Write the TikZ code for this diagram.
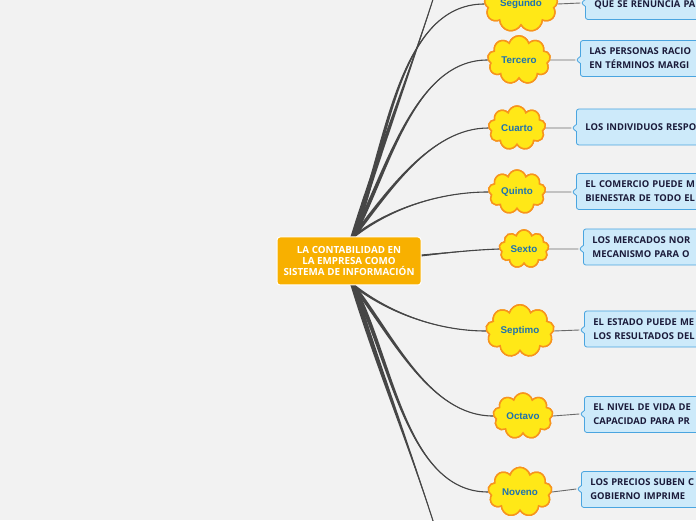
\documentclass[tikz,border=0pt]{standalone}
\usepackage{fontspec}
\setmainfont{Open Sans}
\newfontfamily\nubefont{Liberation Sans}
\usetikzlibrary{shapes.symbols,shapes.callouts,calc}
\definecolor{fondo}{HTML}{F2F2F2}
\definecolor{rama}{HTML}{464646}
\definecolor{naranja}{HTML}{F8B000}
\definecolor{amarillo}{HTML}{FFE817}
\definecolor{borde}{HTML}{F7941D}
\definecolor{azultxt}{HTML}{1F72AE}
\definecolor{celeste}{HTML}{CDEAFA}
\definecolor{azulborde}{HTML}{4AA5E0}
\definecolor{tinta}{HTML}{1B1B3A}
\definecolor{enlace}{HTML}{6A6A6A}
% rama afinada: desde, hasta, angulo de salida, angulo de llegada, medio ancho
\newcommand{\rama}[5]{%
  \fill[rama] ($(#1)+(#5)$) to[out=#3,in=#4,looseness=0.85] (#2)
    to[out=#4,in=#3,looseness=0.85] ($(#1)-(#5)$) -- cycle;
  \draw[rama,line width=1.1pt] (#1) to[out=#3,in=#4,looseness=0.85] (#2);}

\begin{document}
\begin{tikzpicture}[x=1pt,y=1pt,
    tema/.style={rectangle, rounded corners=3pt, draw=white, line width=1pt, fill=naranja,
      text=white, font=\bfseries\fontsize{9.8}{11}\selectfont, align=center,
      minimum width=144pt, minimum height=48pt},
    nube/.style={cloud, cloud puffs=9, aspect=1.6, draw=borde, line width=1.5pt, fill=amarillo,
      text=azultxt, font=\nubefont\bfseries\fontsize{9.8}{11}\selectfont,
      inner xsep=2.5pt, inner ysep=5pt},
    caja/.style={rectangle callout, rounded corners=2.5pt, draw=azulborde, fill=celeste,
      line width=0.8pt, text=tinta, font=\bfseries\fontsize{9.4}{14}\selectfont,
      align=left, text width=150pt, inner xsep=9pt, minimum height=36pt, anchor=west,
      callout pointer width=7pt},
    enlace/.style={draw=enlace, line width=0.9pt}]
    
    \clip (0,0) rectangle (696,520);
    \fill[fondo] (0,0) rectangle (696,520);
    
    \node (tema) at (349,259) {};
    \coordinate (arriba) at (353,283);
    \coordinate (abajo) at (353,235);
    \coordinate (primero) at (448,570);
    \coordinate (decimo) at (448,-50);
    
    \node[nube] (segundo) at (521,516) {Segundo};
    \node[nube] (tercero) at (519,460) {Tercero};
    \node[nube] (cuarto) at (517,392) {Cuarto};
    \node[nube] (quinto) at (517,328) {Quinto};
    \node[nube] (sexto) at (524,271) {Sexto};
    \node[nube] (septimo) at (520,189) {Septimo};
    \node[nube] (octavo) at (523,104) {Octavo};
    \node[nube] (noveno) at (520,28) {Noveno};
    
    \node[caja, callout absolute pointer={(581,517)}] (c2) at (585,518.5) {\mbox{}\\QUE SE RENUNCIA PA};
    \node[caja, callout absolute pointer={(576,460)}] (c3) at (580,461.5) {LAS PERSONAS RACIO\\EN TÉRMINOS MARGI};
    \node[caja, callout absolute pointer={(572,392)}] (c4) at (576,393) {LOS INDIVIDUOS RESPO};
    \node[caja, callout absolute pointer={(572,328)}] (c5) at (576,328.5) {EL COMERCIO PUEDE M\\BIENESTAR DE TODO EL};
    \node[caja, callout absolute pointer={(579,271)}] (c6) at (583,273) {LOS MERCADOS NOR\\MECANISMO PARA O};
    \node[caja, callout absolute pointer={(580,190)}] (c7) at (584,191) {EL ESTADO PUEDE ME\\LOS RESULTADOS DEL};
    \node[caja, callout absolute pointer={(580,106)}] (c8) at (584,105.5) {EL NIVEL DE VIDA DE\\CAPACIDAD PARA PR};
    \node[caja, callout absolute pointer={(577,31)}] (c9) at (581,30.5) {LOS PRECIOS SUBEN C\\GOBIERNO IMPRIME};
    
    % ramas principales
    \rama{arriba}{primero}{73}{254}{2.6,0}
    \rama{arriba}{segundo.west}{68}{180}{2.2,0}
    \rama{arriba}{tercero.west}{62}{180}{2.2,0}
    \rama{arriba}{cuarto.west}{52}{180}{2.2,0}
    \rama{arriba}{quinto.west}{38}{180}{2.2,0}
    \rama{tema.east}{sexto.west}{2}{182}{0,1.8}
    \rama{abajo}{septimo.west}{-38}{180}{2.2,0}
    \rama{abajo}{octavo.west}{-52}{180}{2.2,0}
    \rama{abajo}{noveno.west}{-62}{180}{2.2,0}
    \rama{abajo}{decimo}{-73}{106}{2.6,0}
    
    \node[tema] at (tema) {LA CONTABILIDAD EN\\LA EMPRESA COMO\\SISTEMA DE INFORMACIÓN};
    
    \foreach \n/\c in {segundo/c2,tercero/c3,cuarto/c4,quinto/c5,sexto/c6,septimo/c7,octavo/c8,noveno/c9}
      \draw[enlace] (\n.east) -- (\c.pointer);
    
    % las nubes van encima de las ramas
    \node[nube] at (segundo) {Segundo};
    \node[nube] at (tercero) {Tercero};
    \node[nube] at (cuarto) {Cuarto};
    \node[nube] at (quinto) {Quinto};
    \node[nube] at (sexto) {Sexto};
    \node[nube] at (septimo) {Septimo};
    \node[nube] at (octavo) {Octavo};
    \node[nube] at (noveno) {Noveno};
\end{tikzpicture}
\end{document}
